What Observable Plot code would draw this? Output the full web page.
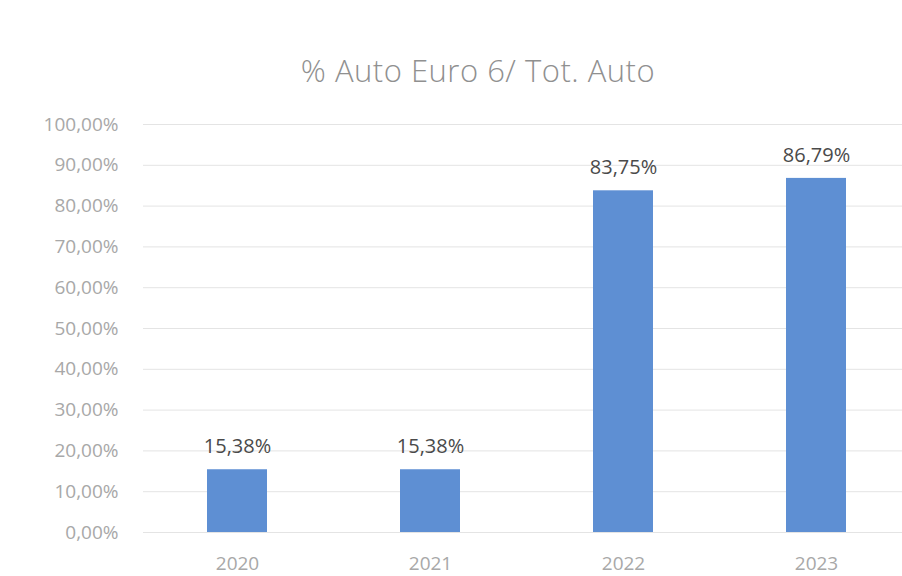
<!DOCTYPE html>
<html>
<head>
<meta charset="utf-8">
<script src="https://cdn.jsdelivr.net/npm/d3@7"></script>
<script src="https://cdn.jsdelivr.net/npm/@observablehq/plot@0.6"></script>
<style>
  body { margin: 0; background: #fff; font-family: "Open Sans", sans-serif; }
  #title { height: 100px; width: 902px; box-sizing: border-box; padding-left: 54px; padding-top: 50px;
           text-align: center; font-size: 31px; line-height: 40px; color: #909090; font-weight: 300; letter-spacing: 0.5px; }
  #chart svg { display: block; }
</style>
</head>
<body>
<div id="title">% Auto Euro 6/ Tot. Auto</div>
<div id="chart"></div>
<script>
const years = ["2020", "2021", "2022", "2023"];
const shares = [15.38, 15.38, 83.75, 86.79];
const yTicks = [0, 10, 20, 30, 40, 50, 60, 70, 80, 90, 100];

const data = years.map((y, i) => ({year: y, value: shares[i]}));
const locale = d3.formatLocale({decimal: ",", thousands: ".", grouping: [3], currency: ["", "€"]});
const fmt = v => locale.format(".2f")(v) + "%";

const chart = Plot.plot({
  width: 902,
  height: 476,
  marginTop: 24,
  marginBottom: 44,
  marginLeft: 143,
  marginRight: 0,
  style: {fontFamily: "Open Sans, sans-serif", background: "#fff"},
  x: {domain: years, range: [143, 909], paddingInner: 0.69, paddingOuter: 0.326, label: null},
  y: {domain: [0, 100], label: null},
  marks: [
    Plot.ruleY(yTicks, {stroke: "#e4e4e4", strokeWidth: 1}),
    Plot.barY(data, {x: "year", y: "value", fill: "#5e8fd3"}),
    Plot.text(data, {x: "year", y: "value", text: d => fmt(d.value), dy: -23, fontSize: 20, fill: "#4a4a4a"}),
    Plot.axisY(yTicks, {tickSize: 0, tickPadding: 25, tickFormat: fmt, fontSize: 19, fill: "#a8a8a8", label: null, letterSpacing: "1.2px"}),
    Plot.axisX({tickSize: 0, tickPadding: 24, fontSize: 19, fill: "#a8a8a8", label: null, letterSpacing: "1px"})
  ]
});
document.getElementById("chart").appendChild(chart);
</script>
</body>
</html>
